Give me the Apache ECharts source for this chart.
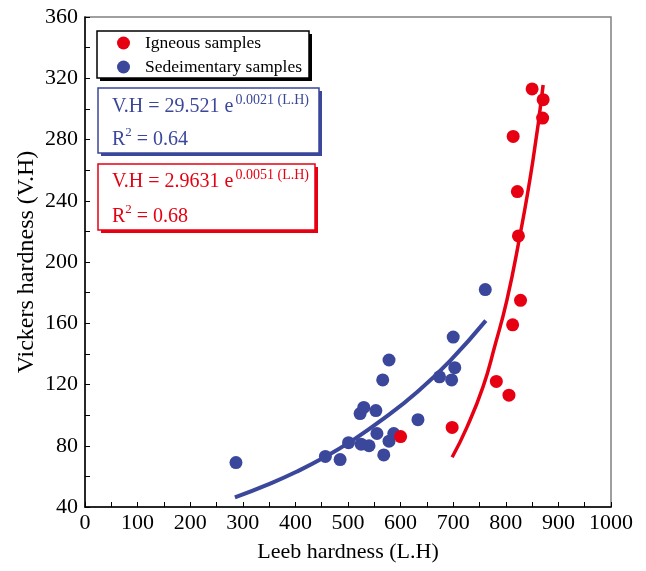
<!DOCTYPE html>
<html>
<head>
    <meta charset="utf-8">
    <script src="https://cdn.jsdelivr.net/npm/echarts@6/dist/echarts.min.js"></script>
    <style>
        body { margin: 0; background: #fff; }
        #main { width: 646px; height: 571px; }
    </style>
</head>
<body>
<div id="main"></div>
<script type="text/javascript">
    // igneous samples (L.H, V.H)
    var igneousLH = [850, 871, 870, 814, 822, 824, 828, 813, 782, 806, 698, 600];
    var igneousVH = [313, 306, 294, 282, 246, 217, 175, 159, 122, 113, 92, 86];

    // sedimentary samples
    var sedLH = [287, 457, 485, 501, 525, 540, 523, 530, 553, 555, 566, 578, 568, 578, 587, 633, 674, 697, 703, 700, 761];
    var sedVH = [69, 73, 71, 82, 81, 80, 101, 105, 103, 88, 123, 136, 74, 83, 88, 97, 125, 123, 131, 151, 182];

    // fitted curves as drawn in the figure
    var sedFitLH = [285, 352, 402, 456, 504, 567, 631, 694, 762];
    var sedFitVH = [46.3, 55.3, 63, 72.6, 82.5, 97.5, 115, 135.5, 161.7];
    var igFitLH = [698, 726, 757, 779, 802, 824, 851, 871];
    var igFitVH = [72.5, 92, 118.8, 145, 175, 212, 265, 315.6];

    var RED = '#e60012';
    var BLUE = '#3b479b';
    var FONT = '"Liberation Serif", "Times New Roman", serif';

    function pairs(xs, ys) {
        return xs.map(function (x, i) { return [x, ys[i]]; });
    }

    // box with a solid drop shadow (shadow rect behind, framed rect on top)
    function box(x, y, w, h, color, z) {
        return [
            { type: 'rect', z: z, shape: { x: x + 3, y: y + 3, width: w, height: h }, style: { fill: color } },
            { type: 'rect', z: z + 1, shape: { x: x, y: y, width: w, height: h }, style: { fill: '#fff', stroke: color, lineWidth: 1.5 } }
        ];
    }

    function eqText(left, top, main, sup, color) {
        return {
            type: 'text', left: left, top: top, z: 20,
            style: {
                text: '{a|' + main + '}{b|' + sup + '}',
                rich: {
                    a: { fontSize: 20, fontFamily: FONT, fill: color, lineHeight: 28 },
                    b: { fontSize: 14, fontFamily: FONT, fill: color, verticalAlign: 'top', lineHeight: 14, padding: [0, 0, 0, 2] }
                }
            }
        };
    }

    function r2Text(left, top, val, color) {
        return {
            type: 'text', left: left, top: top, z: 20,
            style: {
                text: '{a|R}{b|2}{a| = ' + val + '}',
                rich: {
                    a: { fontSize: 20, fontFamily: FONT, fill: color, lineHeight: 28 },
                    b: { fontSize: 13, fontFamily: FONT, fill: color, verticalAlign: 'top', lineHeight: 13 }
                }
            }
        };
    }

    var myChart = echarts.init(document.getElementById('main'));

    var graphics = []
        .concat(box(97, 31, 212, 47, '#000', 1))
        .concat(box(98, 88, 221, 65, BLUE, 10))
        .concat(box(98, 164, 217, 66, RED, 10))
        .concat([
            eqText(112, 93, 'V.H = 29.521 e', '0.0021 (L.H)', BLUE),
            r2Text(112, 126, '0.64', BLUE),
            eqText(112, 168, 'V.H = 2.9631 e', '0.0051 (L.H)', RED),
            r2Text(112, 203, '0.68', RED)
        ]);

    myChart.setOption({
        backgroundColor: '#fff',
        animation: false,
        grid: {
            left: 85, right: 35, top: 17, bottom: 64,
            show: true, borderColor: '#808080', borderWidth: 1.5
        },
        legend: {
            data: ['Igneous samples', 'Sedeimentary samples'],
            orient: 'vertical',
            left: 97, top: 31, z: 5,
            icon: 'circle',
            itemWidth: 13, itemHeight: 13,
            itemGap: 6,
            padding: [3, 7, 2, 20],
            textStyle: { fontSize: 17.5, fontFamily: FONT, color: '#000', padding: [0, 0, 0, 10] }
        },
        xAxis: {
            type: 'value', min: 0, max: 1000, interval: 100,
            name: 'Leeb hardness (L.H)', nameLocation: 'middle', nameGap: 34,
            nameMoveOverlap: false,
            nameTextStyle: { fontSize: 22, fontFamily: FONT, color: '#000' },
            axisLine: { lineStyle: { color: '#000', width: 1.5 } },
            axisTick: { inside: true, length: 5, lineStyle: { color: '#000' } },
            minorTick: { show: true, splitNumber: 2, length: 5, lineStyle: { color: '#000' } },
            splitLine: { show: false },
            axisLabel: { fontSize: 22, fontFamily: FONT, color: '#000', margin: 5, formatter: function (v) { return String(v); } }
        },
        yAxis: {
            type: 'value', min: 40, max: 360, interval: 40,
            name: 'Vickers hardness (V.H)', nameLocation: 'middle', nameGap: 46,
            nameMoveOverlap: false,
            nameTextStyle: { fontSize: 24, fontFamily: FONT, color: '#000' },
            axisLine: { lineStyle: { color: '#000', width: 1.5 } },
            axisTick: { inside: true, length: 5, lineStyle: { color: '#000' } },
            minorTick: { show: true, splitNumber: 2, length: 5, lineStyle: { color: '#000' } },
            splitLine: { show: false },
            axisLabel: { fontSize: 22, fontFamily: FONT, color: '#000', margin: 7 }
        },
        graphic: graphics,
        series: [
            {
                name: 'Sedeimentary fit', type: 'line', smooth: true, showSymbol: false,
                data: pairs(sedFitLH, sedFitVH), z: 2,
                lineStyle: { color: BLUE, width: 4 }
            },
            {
                name: 'Igneous fit', type: 'line', smooth: true, showSymbol: false,
                data: pairs(igFitLH, igFitVH), z: 2,
                lineStyle: { color: RED, width: 3.5 }
            },
            {
                name: 'Sedeimentary samples', type: 'scatter', symbolSize: 13, z: 3,
                itemStyle: { color: BLUE, opacity: 1 },
                data: pairs(sedLH, sedVH)
            },
            {
                name: 'Igneous samples', type: 'scatter', symbolSize: 13, z: 4,
                itemStyle: { color: RED, opacity: 1 },
                data: pairs(igneousLH, igneousVH)
            }
        ]
    });
</script>
</body>
</html>
